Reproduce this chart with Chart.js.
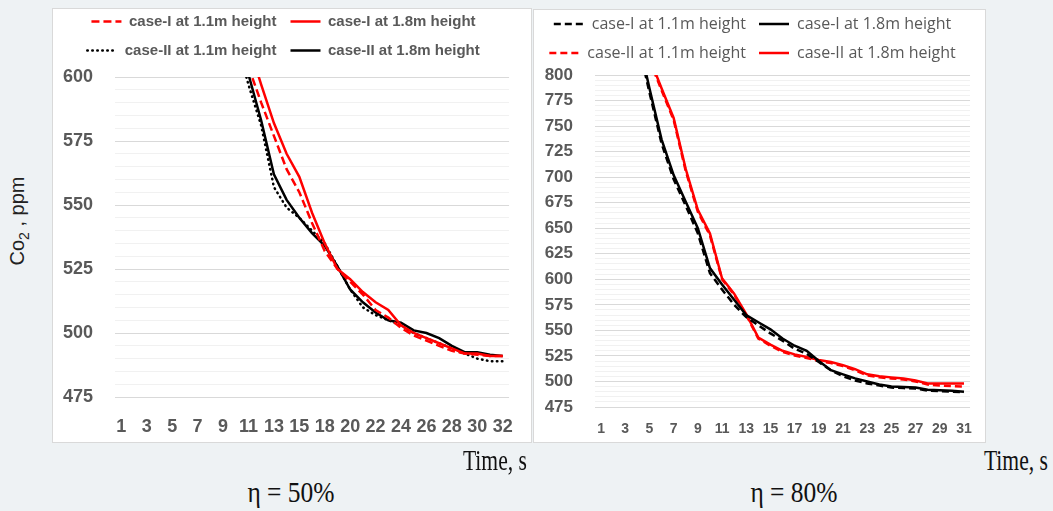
<!DOCTYPE html>
<html>
<head>
<meta charset="utf-8">
<script src="https://cdn.jsdelivr.net/npm/chart.js@4.4.0/dist/chart.umd.min.js"></script>
<style>
  html, body { margin: 0; padding: 0; }
  body {
    width: 1053px; height: 511px; position: relative; overflow: hidden;
    background: #eef2f4;
    font-family: "Liberation Sans", Arial, sans-serif;
  }
  .panel { position: absolute; background: #fff; border: 1px solid #d9d9d9; box-sizing: border-box; }
  .wrap { position: absolute; }
  .ylabel {
    position: absolute; left: 19px; top: 221px; color: #222; font-size: 20px;
    transform: translate(-50%, -50%) rotate(-90deg); white-space: nowrap;
  }
  .xlabel {
    position: absolute; font-family: "Liberation Serif", "Times New Roman", serif;
    font-size: 30px; color: #111; white-space: nowrap;
    transform: scaleX(0.72); transform-origin: right center;
  }
  .caption {
    position: absolute; font-family: "Liberation Serif", "Times New Roman", serif;
    font-size: 30px; color: #111; white-space: nowrap;
    transform: translateX(-50%) scaleX(0.85);
  }
</style>
</head>
<body>
<div class="panel" style="left:52px; top:8px; width:480px; height:435px;"></div>
<div class="panel" style="left:533px; top:9px; width:453px; height:434px;"></div>

<div class="wrap" style="left:52px; top:0px; width:480px; height:445px;"><canvas id="left"></canvas></div>
<div class="wrap" style="left:533px; top:3px; width:453px; height:440px;"><canvas id="right"></canvas></div>

<div class="ylabel">Co<sub style="font-size:14px">2</sub> , ppm</div>
<div class="xlabel" style="right:526px; top:443px;">Time, s</div>
<div class="xlabel" style="right:5px; top:443px;">Time, s</div>
<div class="caption" style="left:291px; top:475px;">η = 50%</div>
<div class="caption" style="left:794px; top:475px;">η = 80%</div>

<script>
// eta = 50 % : time labels (16 is missing in the source sheet)
const timeLeft = [1, 2, 3, 4, 5, 6, 7, 8, 9, 10, 11, 12, 13, 14, 15, 17,
  18, 19, 20, 21, 22, 23, 24, 25, 26, 27, 28, 29, 30, 31, 32];
const caseI11Left = [null, null, null, null, null, null, null, null, null, null,
  604, 590, 577, 564, 555, 543, 532, 525, 520, 515, 509, 506, 502, 499, 497, 495, 493, 492, 491.5, 491, 491];
const caseI18Left = [null, null, null, null, null, null, null, null, null, null,
  613, 597, 582, 570, 561, 547, 535, 525, 521, 516, 512, 509, 503, 500, 498, 496, 494, 492, 492, 491, 491];
const caseII11Left = [null, null, null, null, null, null, null, null, null,
  615, 597, 581, 557, 549, 545, 540, 535, 526, 517, 510, 507, 505, 503, 500, 498, 496, 494, 492, 490, 489, 489];
const caseII18Left = [null, null, null, null, null, null, null, null, null, null,
  601, 583, 562, 552, 545, 539, 534, 526, 517, 512, 508, 505, 504, 501, 500, 498, 495, 492.5, 492.5, 491.5, 491];

// eta = 80 %
const timeRight = [1, 2, 3, 4, 5, 6, 7, 8, 9, 10, 11, 12, 13, 14, 15, 16,
  17, 18, 19, 20, 21, 22, 23, 24, 25, 26, 27, 28, 29, 30, 31];
const caseI11Right = [null, null, null,
  835, 783, 733, 698, 672, 645, 606, 590, 575, 563, 555, 547, 540, 532, 527, 519, 511, 505, 501, 498, 496, 494, 493.5, 493, 491, 490.5, 490, 489.5];
const caseI18Right = [null, null, null,
  840, 787, 737, 702, 676, 650, 611, 595, 580, 565, 558, 551, 542, 535, 530, 520, 511, 507, 503, 500, 497, 495, 494.5, 494, 492, 491.5, 491, 490];
const caseII11Right = [null, null, null, null,
  815, 785, 756, 706, 666, 643, 600, 585, 565, 542, 535, 529, 525.5, 523, 520, 518, 515, 511, 506, 504, 503, 502, 500, 497, 496, 495.5, 495];
const caseII18Right = [null, null, null, null,
  817, 787, 758, 708, 668, 645, 601, 586, 566, 543, 536, 530, 526.5, 524, 521, 519, 516, 512, 507, 505, 504, 503, 501, 498, 498, 498, 498];

const yTicksLeft = { min: 475, max: 600, step: 25 };
const yTicksRight = { min: 475, max: 800, step: 25 };

// lets the legend take a fixed height so the plot area lands where it should
const legendHeight = {
  id: "legendHeight",
  beforeInit(chart, args, opts) {
    const fit = chart.legend.fit;
    chart.legend.fit = function () {
      fit.call(this);
      if (opts.height) this.height = opts.height;
    };
  }
};

const line = (label, data, color, dash, cap) => ({
  label,
  data,
  borderColor: color,
  backgroundColor: color,
  borderWidth: 2.5,
  borderDash: dash,
  borderCapStyle: cap || "butt",
  pointRadius: 0,
  tension: 0,
  spanGaps: false
});

// point-style legend items lose the dataset dash, so put it back
const legendItems = (chart) =>
  Chart.defaults.plugins.legend.labels.generateLabels(chart).map((item, i) => {
    const ds = chart.data.datasets[i];
    return { ...item, lineDash: ds.borderDash, lineCap: ds.borderCapStyle, lineWidth: ds.borderWidth, strokeStyle: ds.borderColor };
  });

const createPanel = (node, cfg) => new Chart(node, {
  type: "line",
  data: { labels: cfg.labels, datasets: cfg.datasets },
  plugins: [legendHeight],
  options: {
    responsive: true,
    maintainAspectRatio: false,
    animation: false,
    layout: { padding: { top: 0, left: 0, right: cfg.padRight, bottom: 0 } },
    plugins: {
      tooltip: { enabled: false },
      legendHeight: { height: cfg.legendHeight },
      legend: {
        position: "top",
        labels: {
          usePointStyle: true,
          pointStyle: "line",
          pointStyleWidth: 30,
          padding: cfg.legendPadding,
          color: "#595959",
          font: cfg.legendFont,
          generateLabels: legendItems
        }
      }
    },
    scales: {
      x: {
        offset: true,
        grid: { display: false, drawTicks: false },
        border: { display: false },
        afterFit: (scale) => { scale.height = cfg.xHeight; },
        ticks: {
          autoSkip: false,
          maxRotation: 0,
          minRotation: 0,
          padding: cfg.xPad,
          color: "#595959",
          font: { family: "'Liberation Sans', Arial, sans-serif", size: cfg.xFont, weight: "bold" },
          callback: (val, i) => (i % 2 === 0 ? cfg.labels[i] : "")
        }
      },
      y: {
        min: cfg.y.min,
        max: cfg.y.max,
        afterFit: (scale) => { scale.width = cfg.yWidth; },
        grid: {
          drawTicks: false,
          color: (ctx) => (ctx.tick && ctx.tick.value % cfg.y.step === 0 ? "#d9d9d9" : "#f1f1f1")
        },
        border: { display: false },
        ticks: {
          stepSize: 5, // minor grid every 5 ppm, labels only on the 25s
          autoSkip: false,
          maxTicksLimit: 1000,
          padding: 22,
          color: "#595959",
          font: { family: "'Liberation Sans', Arial, sans-serif", size: cfg.yFont, weight: "bold" },
          callback: (v) => (v % cfg.y.step === 0 ? v : "")
        }
      }
    }
  }
});

createPanel(document.getElementById("left"), {
  labels: timeLeft,
  datasets: [
    line("case-I at 1.1m height", caseI11Left, "#ff0000", [8, 4]),
    line("case-I at 1.8m height", caseI18Left, "#ff0000", []),
    line("case-II at 1.1m height", caseII11Left, "#000000", [0.5, 4.5], "round"),
    line("case-II at 1.8m height", caseII18Left, "#000000", [])
  ],
  y: yTicksLeft,
  padRight: 17,
  yWidth: 63,
  xHeight: 48,
  xPad: 19,
  xFont: 18,
  yFont: 18,
  legendPadding: 14,
  legendHeight: 77,
  legendFont: { family: "'Liberation Sans', Arial, sans-serif", size: 15, weight: "bold" }
});

createPanel(document.getElementById("right"), {
  labels: timeRight,
  datasets: [
    line("case-I at 1.1m height", caseI11Right, "#000000", [7, 4]),
    line("case-I at 1.8m height", caseI18Right, "#000000", []),
    line("case-II at 1.1m height", caseII11Right, "#ff0000", [7, 4]),
    line("case-II at 1.8m height", caseII18Right, "#ff0000", [])
  ],
  y: yTicksRight,
  padRight: 14,
  yWidth: 62,
  xHeight: 36,
  xPad: 14,
  xFont: 14,
  yFont: 17,
  legendPadding: 13,
  legendHeight: 72,
  legendFont: { family: "'Open Sans', sans-serif", size: 16 }
});
</script>
</body>
</html>
